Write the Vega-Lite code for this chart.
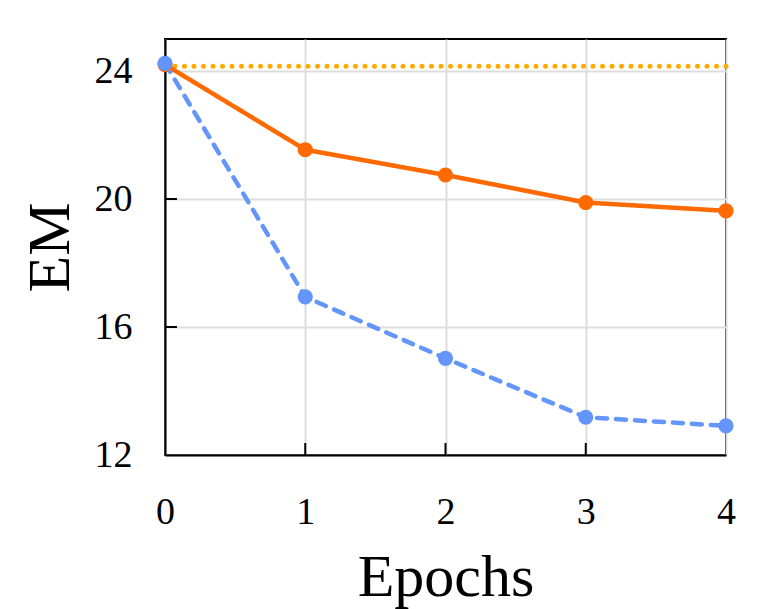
{
  "$schema": "https://vega.github.io/schema/vega-lite/v6.json",
  "width": 561,
  "height": 416,
  "autosize": "none",
  "padding": {"left": 165, "top": 39, "right": 35, "bottom": 154},
  "background": "white",
  "config": {
    "font": "Liberation Serif",
    "view": {"stroke": "black", "strokeWidth": 2},
    "axis": {
      "labelFont": "Liberation Serif",
      "titleFont": "Liberation Serif",
      "labelColor": "black",
      "titleColor": "black",
      "labelFontSize": 38,
      "titleFontSize": 60,
      "titleFontWeight": "normal",
      "gridColor": "#dddddd",
      "gridWidth": 2,
      "domainColor": "black",
      "domainWidth": 2,
      "ticks": false
    }
  },
  "layer": [
    {
      "data": {"values": [{"level": 24.15}]},
      "mark": {"type": "rule", "color": "#FFAA00", "strokeWidth": 5, "strokeDash": [0, 9.5], "strokeCap": "round"},
      "encoding": {
        "y": {"field": "level", "type": "quantitative", "scale": {"domain": [12, 25], "nice": false}}
      }
    },
    {
      "data": {"values": [{"epoch": 1, "em": 12}, {"epoch": 2, "em": 12}, {"epoch": 3, "em": 12}]},
      "mark": {"type": "tick", "orient": "vertical", "color": "black", "opacity": 1, "thickness": 2, "size": 12, "yOffset": -6},
      "encoding": {
        "x": {"field": "epoch", "type": "quantitative"},
        "y": {"field": "em", "type": "quantitative"}
      }
    },
    {
      "data": {"values": [{"epoch": 0, "em": 16}, {"epoch": 0, "em": 20}, {"epoch": 0, "em": 24}]},
      "mark": {"type": "tick", "orient": "horizontal", "color": "black", "opacity": 1, "thickness": 2, "size": 12, "xOffset": 6},
      "encoding": {
        "x": {"field": "epoch", "type": "quantitative"},
        "y": {"field": "em", "type": "quantitative"}
      }
    },
    {
      "data": {
        "values": [
          {"epoch": 0, "em": 24.2, "series": "a"},
          {"epoch": 1, "em": 21.54, "series": "a"},
          {"epoch": 2, "em": 20.75, "series": "a"},
          {"epoch": 3, "em": 19.89, "series": "a"},
          {"epoch": 4, "em": 19.63, "series": "a"},
          {"epoch": 0, "em": 24.24, "series": "b"},
          {"epoch": 1, "em": 16.94, "series": "b"},
          {"epoch": 2, "em": 15.02, "series": "b"},
          {"epoch": 3, "em": 13.18, "series": "b"},
          {"epoch": 4, "em": 12.91, "series": "b"}
        ]
      },
      "encoding": {
        "x": {
          "field": "epoch", "type": "quantitative", "title": "Epochs",
          "scale": {"domain": [0, 4], "nice": false},
          "axis": {"values": [0, 1, 2, 3, 4], "format": "d", "labelPadding": 38, "labelFlush": false, "titlePadding": 17, "grid": true}
        },
        "y": {
          "field": "em", "type": "quantitative", "title": "EM",
          "scale": {"domain": [12, 25], "nice": false},
          "axis": {"values": [12, 16, 20, 24], "format": "d", "labelPadding": 33, "labelFlush": false, "titlePadding": 13, "grid": true}
        },
        "color": {
          "field": "series", "type": "nominal", "legend": null,
          "scale": {"domain": ["a", "b"], "range": ["#FF6A00", "#6495FA"]}
        }
      },
      "layer": [
        {
          "mark": {"type": "line", "strokeWidth": 4.5, "strokeCap": "round"},
          "encoding": {
            "strokeDash": {
              "field": "series", "type": "nominal", "legend": null,
              "scale": {"domain": ["a", "b"], "range": [[1, 0], [10, 9]]}
            }
          }
        },
        {"mark": {"type": "circle", "size": 230, "opacity": 1}}
      ]
    }
  ]
}
